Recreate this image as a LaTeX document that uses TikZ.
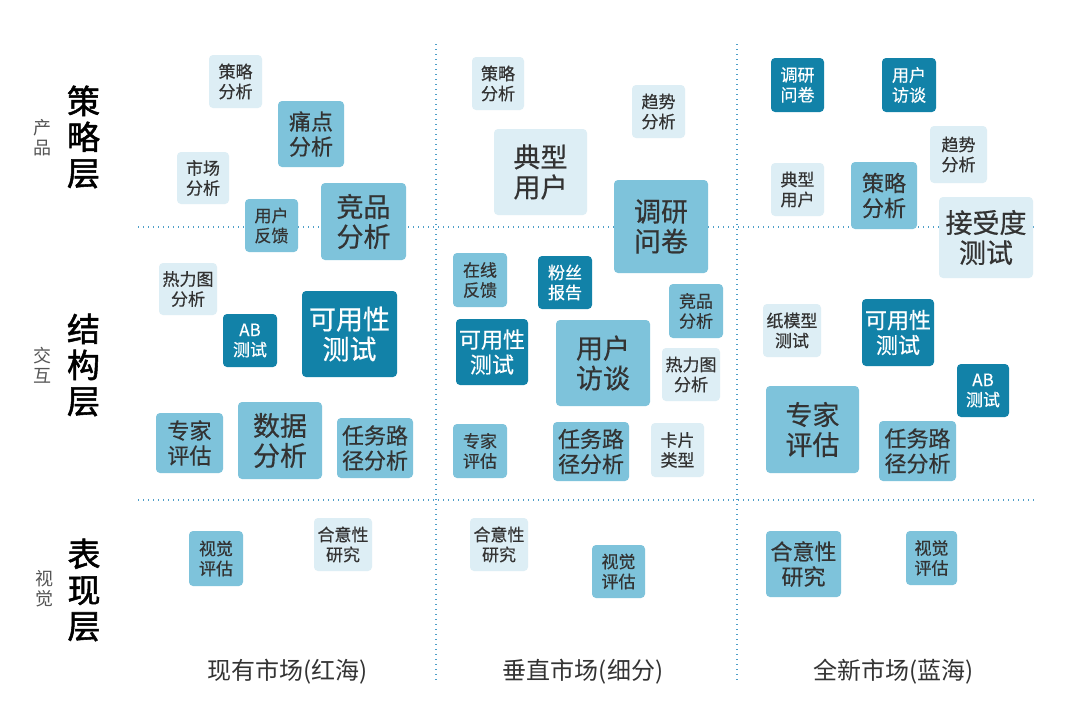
\documentclass[tikz,border=0pt]{standalone}
\usepackage{fontspec}
\setmainfont{Noto Sans CJK SC}
\newfontfamily\tilefont[FakeBold=0.5]{Noto Sans CJK SC}
\newfontfamily\lyrfont[FakeBold=1.6]{Noto Sans CJK SC}
\usepackage{xcolor}
\usepackage{tikz}
\usetikzlibrary{positioning}
\definecolor{mapdeep}{HTML}{1282A8}
\definecolor{mapmid}{HTML}{7EC3DB}
\definecolor{mappale}{HTML}{DDEEF5}
\definecolor{mapink}{HTML}{333333}
\definecolor{mapgrey}{HTML}{555555}
\definecolor{mapline}{HTML}{4F9FC9}

\begin{document}
\begin{tikzpicture}[
  x=1pt, y=-1pt,
  tile/.style={rounded corners=4pt, align=center, inner sep=0pt, text=mapink},
  lite/.style={tile, fill=mappale},
  mdb/.style={tile, fill=mapmid},
  drk/.style={tile, fill=mapdeep, text=white},
  sz/.style 2 args={minimum width=#1pt, minimum height=#2pt},
  tsm/.style={font=\tilefont\fontsize{17}{20}\selectfont},
  tmd/.style={font=\tilefont\fontsize{22}{25}\selectfont},
  tlg/.style={font=\tilefont\fontsize{27}{30}\selectfont},
  divline/.style={draw=mapline, line width=1.1pt, dash pattern=on 1.4pt off 3.6pt},
  lyr/.style={align=center, font=\lyrfont\fontsize{33}{36}\selectfont, text=black},
  sublbl/.style={align=center, font=\fontsize{18}{20}\selectfont, text=mapgrey},
  mkt/.style={font=\fontsize{24}{26}\selectfont, text=mapink}
]
\path[use as bounding box, fill=white] (0,0) rectangle (1080,728);

\draw[divline] (138,227) -- (1035,227);
\draw[divline] (138,500) -- (1035,500);
\draw[divline] (436,44) -- (436,680);
\draw[divline] (737,44) -- (737,680);

\node[lyr] (tstrat) at (83.5,137) {策\\略\\层};
\node[sublbl] (pstrat) at (43,137.5) {产\\品};
\node[lyr] (tstruct) at (83.5,365) {结\\构\\层};
\node[sublbl] (pstruct) at (43,365) {交\\互};
\node[lyr] (tsurf) at (84,590) {表\\现\\层};
\node[sublbl] (psurf) at (44,589) {视\\觉};

\node[lite, sz={53}{53}, tsm] (r1) at (235.5,81.5) {策略\\分析};
\node[mdb, sz={66}{66}, tmd] (r2) at (311,134) {痛点\\分析};
\node[lite, sz={52}{52}, tsm] (r3) at (203,178) {市场\\分析};
\node[mdb, sz={53}{53}, tsm] (r4) at (271.5,225.5) {用户\\反馈};
\node[mdb, sz={85}{77}, tlg] (r5) at (363.5,221.5) {竞品\\分析};
\node[lite, sz={58}{52}, tsm] (r6) at (188,289) {热力图\\分析};
\node[drk, sz={54}{53}, tsm] (r7) at (250,340.5) {AB\\测试};
\node[drk, sz={95}{86}, tlg] (r8) at (349.5,334) {可用性\\测试};
\node[mdb, sz={67}{60}, tmd] (r9) at (189.5,443) {专家\\评估};
\node[mdb, sz={84}{77}, tlg] (r10) at (280,440.5) {数据\\分析};
\node[mdb, sz={76}{60}, tmd] (r11) at (375,448) {任务路\\径分析};
\node[mdb, sz={54}{55}, tsm] (r12) at (216,558.5) {视觉\\评估};
\node[lite, sz={58}{53}, tsm] (r13) at (343,544.5) {合意性\\研究};

\node[lite, sz={52}{53}, tsm] (v1) at (498,83.5) {策略\\分析};
\node[lite, sz={53}{53}, tsm] (v2) at (658.5,111.5) {趋势\\分析};
\node[lite, sz={93}{86}, tlg] (v3) at (540.5,172) {典型\\用户};
\node[mdb, sz={94}{93}, tlg] (v4) at (661,226.5) {调研\\问卷};
\node[mdb, sz={54}{54}, tsm] (v5) at (480,280) {在线\\反馈};
\node[drk, sz={54}{53}, tsm] (v6) at (565,282.5) {粉丝\\报告};
\node[mdb, sz={54}{54}, tsm] (v7) at (696,311) {竞品\\分析};
\node[drk, sz={72}{66}, tmd] (v8) at (492,352) {可用性\\测试};
\node[mdb, sz={94}{86}, tlg] (v9) at (603,363) {用户\\访谈};
\node[lite, sz={58}{53}, tsm] (v10) at (691,374.5) {热力图\\分析};
\node[mdb, sz={54}{54}, tsm] (v11) at (480,451) {专家\\评估};
\node[mdb, sz={76}{59}, tmd] (v12) at (591,451.5) {任务路\\径分析};
\node[lite, sz={53}{54}, tsm] (v13) at (677.5,450) {卡片\\类型};
\node[lite, sz={58}{53}, tsm] (v14) at (499,544.5) {合意性\\研究};
\node[mdb, sz={53}{53}, tsm] (v15) at (618.5,571.5) {视觉\\评估};

\node[drk, sz={53}{54}, tsm] (b1) at (797.5,85) {调研\\问卷};
\node[drk, sz={54}{54}, tsm] (b2) at (909,85) {用户\\访谈};
\node[lite, sz={57}{57}, tsm] (b3) at (958.5,154.5) {趋势\\分析};
\node[lite, sz={53}{53}, tsm] (b4) at (797.5,189.5) {典型\\用户};
\node[mdb, sz={66}{67}, tmd] (b5) at (884,195.5) {策略\\分析};
\node[lite, sz={94}{81}, tlg] (b6) at (986,237.5) {接受度\\测试};
\node[lite, sz={58}{53}, tsm] (b7) at (792,330.5) {纸模型\\测试};
\node[drk, sz={72}{67}, tmd] (b8) at (898,332.5) {可用性\\测试};
\node[drk, sz={52}{53}, tsm] (b9) at (983,390.5) {AB\\测试};
\node[mdb, sz={93}{87}, tlg] (b10) at (812.5,429.5) {专家\\评估};
\node[mdb, sz={77}{60}, tmd] (b11) at (917.5,451) {任务路\\径分析};
\node[mdb, sz={75}{66}, tmd] (b12) at (803.5,564) {合意性\\研究};
\node[mdb, sz={51}{54}, tsm] (b13) at (931.5,558) {视觉\\评估};

\node[mkt] (mred) at (287.5,672) {现有市场(红海)};
\node[mkt] (mvert) at (583,672) {垂直市场(细分)};
\node[mkt] (mblue) at (893.5,672) {全新市场(蓝海)};
\end{tikzpicture}
\end{document}
